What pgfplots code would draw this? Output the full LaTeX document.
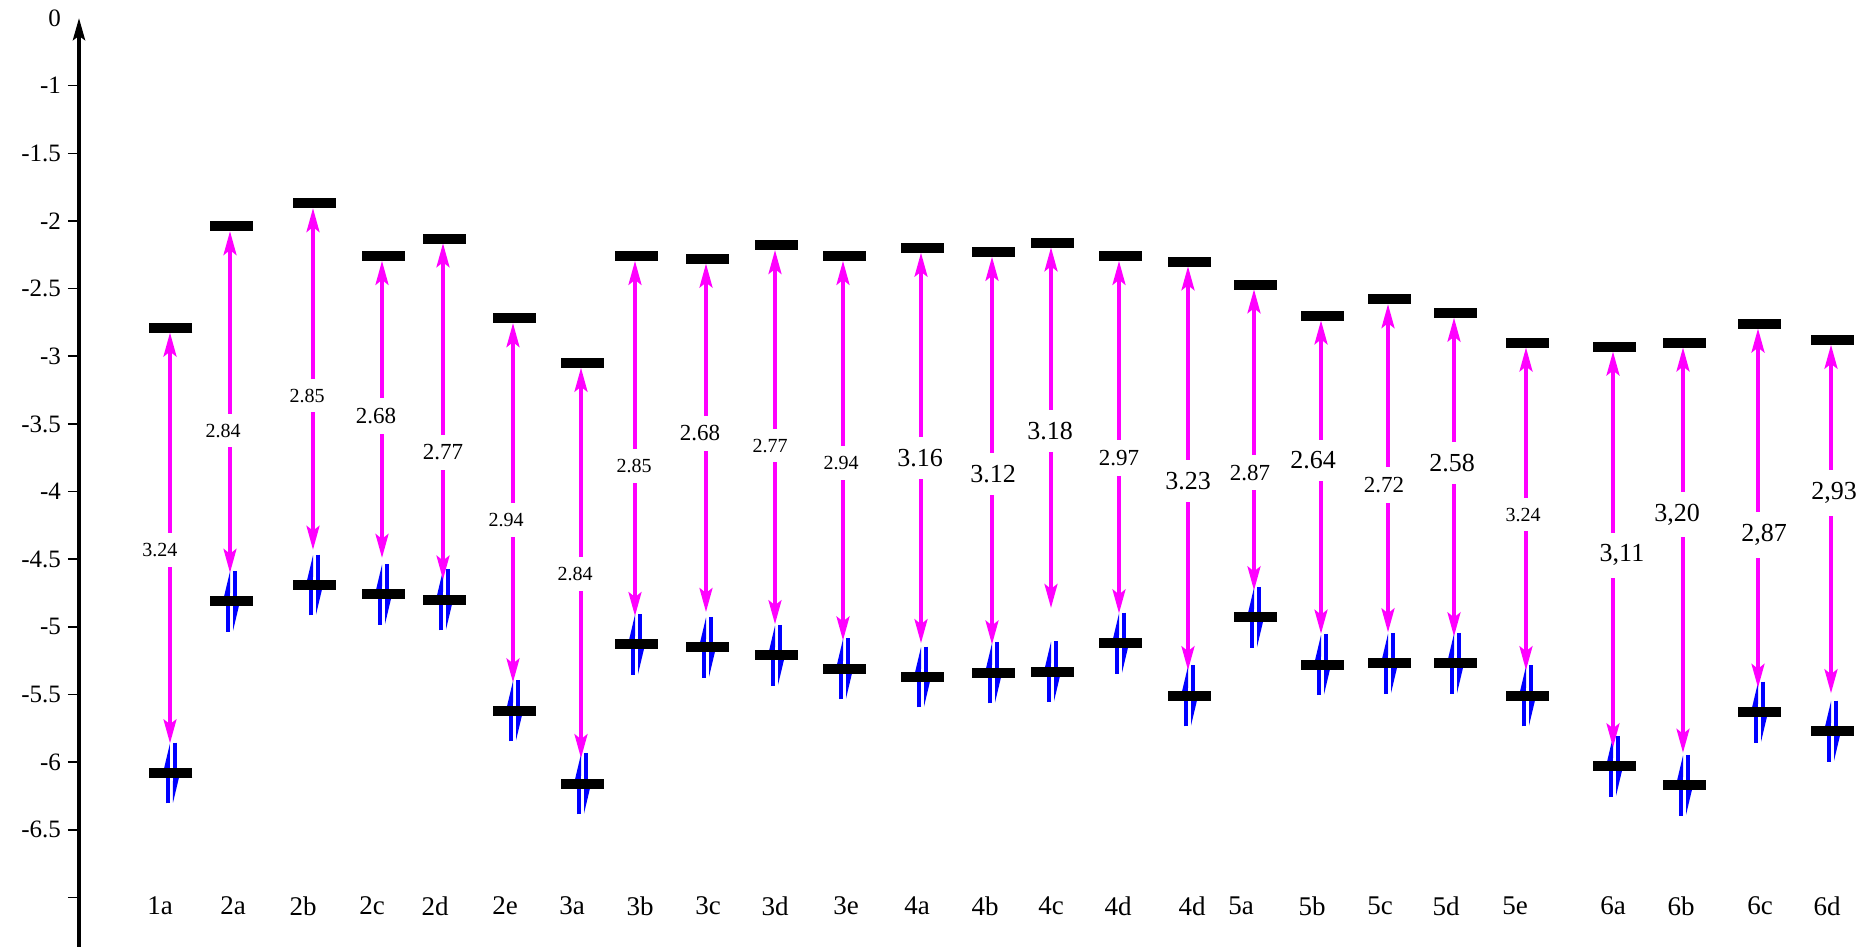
\documentclass[border=0pt]{standalone}
\usepackage{pgfplots}
\pgfplotsset{compat=1.18}
\usepackage{pgfplotstable}
\usepackage{fontspec}
\setmainfont{Liberation Serif}
\usetikzlibrary{arrows.meta}
\definecolor{mag}{RGB}{255,0,255}
\definecolor{spin}{RGB}{0,0,255}

\pgfplotstableread{
x L H bot
171 -2.79 -6.08 -5.86
231 -2.04 -4.81 -4.60
314 -1.87 -4.69 -4.43
383 -2.26 -4.76 -4.49
444 -2.13 -4.80 -4.65
514 -2.72 -5.62 -5.41
582 -3.05 -6.16 -5.97
636 -2.26 -5.13 -4.92
707 -2.28 -5.15 -4.89
776 -2.18 -5.21 -4.98
844 -2.26 -5.31 -5.10
922 -2.20 -5.37 -5.12
993 -2.23 -5.34 -5.13
1052 -2.16 -5.33 -4.86
1120 -2.26 -5.12 -4.90
1189 -2.30 -5.51 -5.32
1255 -2.47 -4.93 -4.73
1322 -2.70 -5.28 -5.05
1389 -2.58 -5.27 -5.04
1455 -2.68 -5.27 -5.07
1527 -2.90 -5.51 -5.32
1614 -2.93 -6.03 -5.89
1684 -2.90 -6.17 -5.93
1759 -2.76 -5.63 -5.45
1832 -2.88 -5.77 -5.49
}\levels

\pgfplotstableread{
x y t
160 -4.43 3.24
223 -3.55 2.84
307 -3.29 2.85
506 -4.21 2.94
575 -4.61 2.84
634 -3.81 2.85
770 -3.66 2.77
841 -3.79 2.94
1523 -4.17 3.24
}\labS

\pgfplotstableread{
x y t
376 -3.44 2.68
443 -3.71 2.77
700 -3.57 2.68
1119 -3.75 2.97
1250 -3.86 2.87
1384 -3.95 2.72
}\labM

\pgfplotstableread{
x y t
920 -3.75 3.16
993 -3.87 3.12
1050 -3.55 3.18
1188 -3.92 3.23
1313 -3.77 2.64
1452 -3.79 2.58
1622 -4.47 3,11
1677 -4.17 3,20
1764 -4.32 2,87
1834 -4.01 2,93
}\labL

\begin{document}
\begin{tikzpicture}
\begin{axis}[
  scale only axis,
  width=893pt, height=464.4pt,
  xmin=79, xmax=1865, ymin=-7.364, ymax=-0.5,
  clip=false,
  axis x line=bottom, axis y line=left,
  x axis line style={draw=none},
  y axis line style={line width=2pt, -{Stealth[length=11pt,width=6pt,inset=2pt]}},
  tick align=outside,
  major tick length=5.5pt,
  ytick={-1,-1.5,-2,-2.5,-3,-3.5,-4,-4.5,-5,-5.5,-6,-6.5,-7},
  yticklabels={-1,-1.5,-2,-2.5,-3,-3.5,-4,-4.5,-5,-5.5,-6,-6.5,{}},
  extra y ticks={-0.5},
  extra y tick labels={0},
  extra y tick style={tick style={draw=none}},
  ytick style={line width=0.8pt, black},
  yticklabel style={font=\fontsize{12.5}{14}\selectfont, text=black},
  xtick={160,233,303,372,435,505,572,640,708,775,846,917,985,1051,1118,1192,1241,1312,1380,1446,1515,1613,1681,1760,1827},
  xticklabels={1a,2a,2b,2c,2d,2e,3a,3b,3c,3d,3e,4a,4b,4c,4d,4d,5a,5b,5c,5d,5e,6a,6b,6c,6d},
  xtick style={draw=none},
  xticklabel style={anchor=center, yshift=26pt, font=\fontsize{13.5}{15}\selectfont, text=black},
]
% energy levels
\addplot[only marks, mark=-, mark size=10.75pt, mark options={line width=5pt, black}] table[x=x, y=L] {\levels};
\addplot[only marks, mark=-, mark size=10.75pt, mark options={line width=5pt, black}] table[x=x, y=H] {\levels};
% spin arrows (up: barb left; down: barb right)
\addplot[spin, line width=2pt, -{Stealth[harpoon, length=11pt, width=5pt, inset=3pt]},
  quiver={u=0, v=0.45}] table[x expr=\thisrow{x}-3, y expr=\thisrow{H}-0.225] {\levels};
\addplot[spin, line width=2pt, -{Stealth[harpoon, length=11pt, width=5pt, inset=3pt]},
  quiver={u=0, v=-0.45}] table[x expr=\thisrow{x}+4, y expr=\thisrow{H}+0.225] {\levels};
% gap arrows
\addplot[mag, line width=1.7pt,
  {Stealth[length=12pt,width=6.5pt,inset=2.5pt]}-{Stealth[length=12pt,width=6.5pt,inset=2.5pt]},
  quiver={u=0, v=\thisrow{L}-0.035-\thisrow{bot}}] table[x expr=\thisrow{x}-1, y=bot] {\levels};
% gap labels
\addplot[draw=none, mark=none, nodes near coords, point meta=explicit symbolic,
  every node near coord/.style={anchor=center, fill=white, text=black, inner xsep=1pt, inner ysep=5pt, font=\fontsize{10}{12}\selectfont}]
  table[x=x, y=y, meta=t] {\labS};
\addplot[draw=none, mark=none, nodes near coords, point meta=explicit symbolic,
  every node near coord/.style={anchor=center, fill=white, text=black, inner xsep=1pt, inner ysep=5pt, font=\fontsize{11.5}{13}\selectfont}]
  table[x=x, y=y, meta=t] {\labM};
\addplot[draw=none, mark=none, nodes near coords, point meta=explicit symbolic,
  every node near coord/.style={anchor=center, fill=white, text=black, inner xsep=1pt, inner ysep=6pt, font=\fontsize{13}{15}\selectfont}]
  table[x=x, y=y, meta=t] {\labL};
\end{axis}
\pgfresetboundingbox
\path[use as bounding box] ([xshift=-39.5pt]current axis.south west) rectangle ([yshift=9pt]current axis.north east);
\end{tikzpicture}
\end{document}
